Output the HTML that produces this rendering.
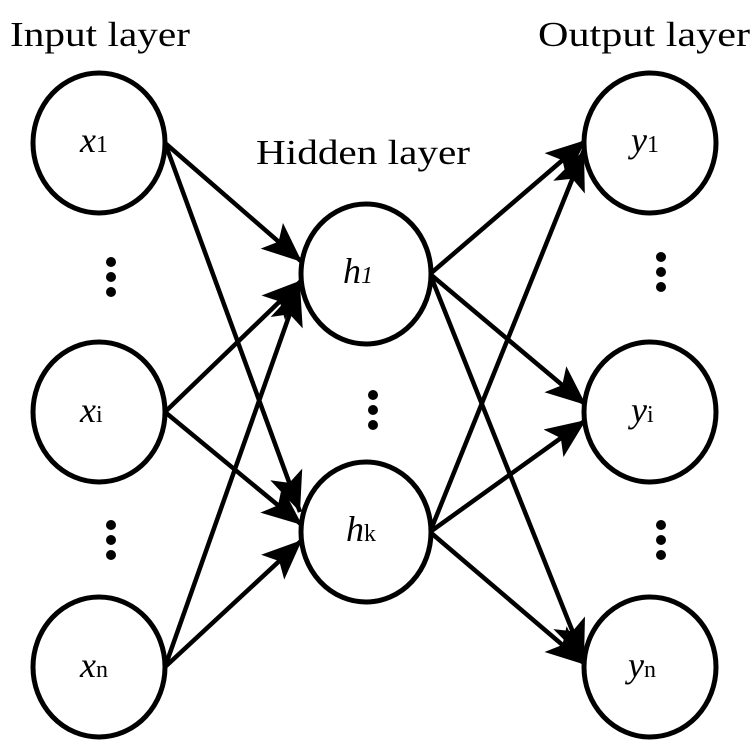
<!DOCTYPE html>
<html><head><meta charset="utf-8"><style>html,body{margin:0;padding:0;background:#fff}</style></head>
<body>
<svg width="753" height="741" viewBox="0 0 753 741" xmlns="http://www.w3.org/2000/svg">
<defs>
<marker id="a" markerUnits="userSpaceOnUse" markerWidth="46" markerHeight="36" refX="40" refY="17" orient="auto">
<path d="M0,0 L40,17 L0,34 L9,17 Z" fill="#000"/>
</marker>
</defs>
<g font-family="Liberation Serif, serif" font-size="35" fill="#000">
<text x="10" y="46" textLength="180" lengthAdjust="spacingAndGlyphs">Input layer</text>
<text x="538" y="46" textLength="212" lengthAdjust="spacingAndGlyphs">Output layer</text>
<text x="256" y="164" textLength="214" lengthAdjust="spacingAndGlyphs">Hidden layer</text>
</g>
<g stroke="#000" stroke-width="4.5" marker-end="url(#a)">
<line x1="165" y1="143" x2="302" y2="262"/>
<line x1="165" y1="412" x2="302" y2="280"/>
<line x1="165" y1="667" x2="300" y2="285"/>
<line x1="165" y1="143" x2="300" y2="512"/>
<line x1="165" y1="412" x2="302" y2="525"/>
<line x1="165" y1="667" x2="302" y2="540"/>
<line x1="430" y1="274" x2="586" y2="140"/>
<line x1="430" y1="532" x2="584" y2="150"/>
<line x1="430" y1="274" x2="586" y2="405"/>
<line x1="430" y1="532" x2="586" y2="420"/>
<line x1="430" y1="274" x2="584" y2="660"/>
<line x1="430" y1="532" x2="586" y2="665"/>
</g>
<g fill="#fff" stroke="#000" stroke-width="5">
<ellipse cx="99" cy="143" rx="66" ry="70"/>
<ellipse cx="99" cy="412" rx="66" ry="70"/>
<ellipse cx="99" cy="667" rx="66" ry="70"/>
<ellipse cx="366" cy="274" rx="65" ry="70"/>
<ellipse cx="366" cy="532" rx="65" ry="70"/>
<ellipse cx="650" cy="143" rx="66" ry="70"/>
<ellipse cx="650" cy="412" rx="66" ry="70"/>
<ellipse cx="650" cy="667" rx="66" ry="70"/>
</g>
<g fill="#000">
<circle cx="111" cy="262" r="5"/><circle cx="111" cy="277" r="5"/><circle cx="111" cy="292" r="5"/>
<circle cx="111" cy="525" r="5"/><circle cx="111" cy="540" r="5"/><circle cx="111" cy="555" r="5"/>
<circle cx="373" cy="395" r="5"/><circle cx="373" cy="410" r="5"/><circle cx="373" cy="425" r="5"/>
<circle cx="661" cy="257" r="5"/><circle cx="661" cy="272" r="5"/><circle cx="661" cy="287" r="5"/>
<circle cx="661" cy="525" r="5"/><circle cx="661" cy="540" r="5"/><circle cx="661" cy="555" r="5"/>
</g>
<g font-family="Liberation Serif, serif" fill="#000">
<text x="80" y="152" font-size="36" font-style="italic">x<tspan font-style="normal" font-size="24">1</tspan></text>
<text x="80" y="422" font-size="36" font-style="italic">x<tspan font-style="normal" font-size="24">i</tspan></text>
<text x="80" y="677" font-size="36" font-style="italic">x<tspan font-style="normal" font-size="24">n</tspan></text>
<text x="343" y="283" font-size="36" font-style="italic">h<tspan font-size="24">1</tspan></text>
<text x="346" y="541" font-size="36" font-style="italic">h<tspan font-style="normal" font-size="24">k</tspan></text>
<text x="631" y="152" font-size="36" font-style="italic">y<tspan font-style="normal" font-size="24">1</tspan></text>
<text x="631" y="422" font-size="36" font-style="italic">y<tspan font-style="normal" font-size="24">i</tspan></text>
<text x="628" y="677" font-size="36" font-style="italic">y<tspan font-style="normal" font-size="24">n</tspan></text>
</g>
</svg>
</body></html>
